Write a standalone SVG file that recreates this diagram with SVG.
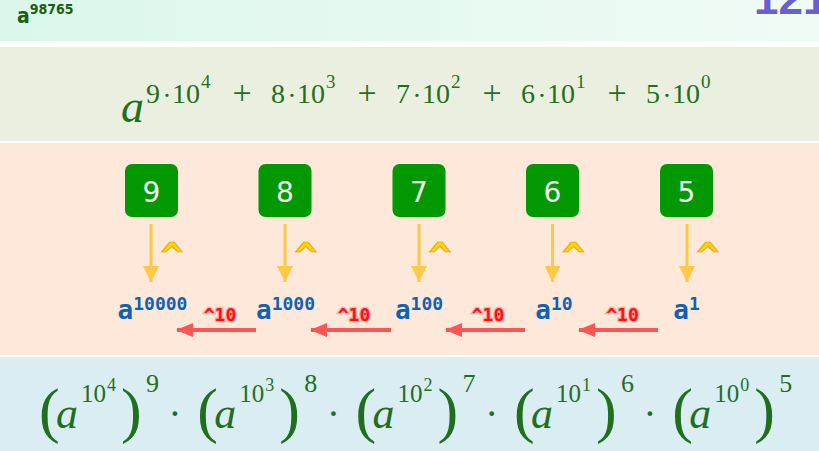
<svg xmlns="http://www.w3.org/2000/svg" width="819" height="451" viewBox="0 0 819 451">
<defs>
<linearGradient id="topg" x1="0" y1="0" x2="1" y2="0">
<stop offset="0" stop-color="#dbf7eb"/>
<stop offset="1" stop-color="#f0fbf6"/>
</linearGradient>
<marker id="ya" markerUnits="userSpaceOnUse" markerWidth="16" markerHeight="16" refX="16" refY="8" orient="auto">
<path d="M0,0 L16,8 L0,16 z" fill="#ffc845"/>
</marker>
<marker id="ra" markerUnits="userSpaceOnUse" markerWidth="17" markerHeight="14" refX="16" refY="7" orient="auto">
<path d="M0,0 L17,7 L0,14 z" fill="#fa5656"/>
</marker>
</defs>
<style>
.math{font-family:"Liberation Serif","DejaVu Serif",serif;fill:#1f6f1f}
.it{font-style:italic}
.box{fill:#029802}
.dig{font-family:"DejaVu Sans",sans-serif;font-size:28px;fill:#f2f2f2;text-anchor:middle}
.pw{font-family:"DejaVu Sans Mono",monospace;font-weight:bold;fill:#1161b3;text-anchor:middle}
.car{font-family:"DejaVu Sans Mono",monospace;font-weight:bold;font-size:38px;fill:#ffd200;stroke:#e09a00;stroke-width:0.7;text-anchor:middle}
.r10{font-family:"DejaVu Sans Mono",monospace;font-weight:bold;font-size:18px;fill:#ff1010;stroke:#ffaaaa;stroke-width:2.5;paint-order:stroke;text-anchor:middle}
.ya{stroke:#ffc845;stroke-width:3;fill:none}
.ra{stroke:#fa5656;stroke-width:4;fill:none}
</style>
<rect width="819" height="451" fill="#ffffff"/>
<g id="band-top">
<rect x="0" y="0" width="819" height="41" fill="url(#topg)"/>
<text x="17" y="23" font-family="'DejaVu Sans Condensed','DejaVu Sans',sans-serif" font-weight="bold" fill="#1b5e12"><tspan font-size="21">a</tspan><tspan font-size="14" dy="-9">98765</tspan></text>
<text x="754" y="14" font-family="'Liberation Sans',Arial,sans-serif" font-weight="bold" font-size="44" fill="#6b5fce">121</text>
</g>
<g id="band-sum">
<rect x="0" y="47" width="819" height="94" fill="#ebefdf"/>
<text class="math it" x="121" y="122" font-size="46">a</text>
<g class="math">
<text x="146" y="103" font-size="28">9</text><text x="167" y="105" font-size="28" text-anchor="middle">·</text><text x="172" y="103" font-size="28">10</text><text x="201" y="88" font-size="19">4</text>
<text x="242" y="104" font-size="34" text-anchor="middle">+</text>
<text x="271" y="103" font-size="28">8</text><text x="292" y="105" font-size="28" text-anchor="middle">·</text><text x="297" y="103" font-size="28">10</text><text x="326" y="88" font-size="19">3</text>
<text x="367" y="104" font-size="34" text-anchor="middle">+</text>
<text x="396" y="103" font-size="28">7</text><text x="417" y="105" font-size="28" text-anchor="middle">·</text><text x="422" y="103" font-size="28">10</text><text x="451" y="88" font-size="19">2</text>
<text x="492" y="104" font-size="34" text-anchor="middle">+</text>
<text x="521" y="103" font-size="28">6</text><text x="542" y="105" font-size="28" text-anchor="middle">·</text><text x="547" y="103" font-size="28">10</text><text x="576" y="88" font-size="19">1</text>
<text x="617" y="104" font-size="34" text-anchor="middle">+</text>
<text x="646" y="103" font-size="28">5</text><text x="667" y="105" font-size="28" text-anchor="middle">·</text><text x="672" y="103" font-size="28">10</text><text x="701" y="88" font-size="19">0</text>
</g>
</g>
<g id="band-steps">
<rect x="0" y="143" width="819" height="212" fill="#fde8da"/>
</g>
<g id="digit-9"><rect class="box" x="125" y="164" width="53" height="53" rx="7"/><text class="dig" x="151.5" y="202">9</text></g>
<g id="digit-8"><rect class="box" x="258.5" y="164" width="53" height="53" rx="7"/><text class="dig" x="285" y="202">8</text></g>
<g id="digit-7"><rect class="box" x="392.5" y="164" width="53" height="53" rx="7"/><text class="dig" x="419" y="202">7</text></g>
<g id="digit-6"><rect class="box" x="526" y="164" width="53" height="53" rx="7"/><text class="dig" x="552.5" y="202">6</text></g>
<g id="digit-5"><rect class="box" x="660" y="164" width="53" height="53" rx="7"/><text class="dig" x="686.5" y="202">5</text></g>
<g id="pow-10000"><text class="pw" x="152.5" y="319"><tspan font-size="26">a</tspan><tspan font-size="18" dy="-9">10000</tspan></text></g>
<g id="pow-1000"><text class="pw" x="285.5" y="319"><tspan font-size="26">a</tspan><tspan font-size="18" dy="-9">1000</tspan></text></g>
<g id="pow-100"><text class="pw" x="419" y="319"><tspan font-size="26">a</tspan><tspan font-size="18" dy="-9">100</tspan></text></g>
<g id="pow-10"><text class="pw" x="554" y="319"><tspan font-size="26">a</tspan><tspan font-size="18" dy="-9">10</tspan></text></g>
<g id="pow-1"><text class="pw" x="686.5" y="319"><tspan font-size="26">a</tspan><tspan font-size="18" dy="-9">1</tspan></text></g>
<g id="connectors">
<line class="ya" x1="151" y1="224" x2="151" y2="282" marker-end="url(#ya)"/>
<line class="ya" x1="285" y1="224" x2="285" y2="282" marker-end="url(#ya)"/>
<line class="ya" x1="419" y1="224" x2="419" y2="282" marker-end="url(#ya)"/>
<line class="ya" x1="552.5" y1="224" x2="552.5" y2="282" marker-end="url(#ya)"/>
<line class="ya" x1="687" y1="224" x2="687" y2="282" marker-end="url(#ya)"/>
<text class="car" x="172" y="269">^</text>
<text class="car" x="306" y="269">^</text>
<text class="car" x="440" y="269">^</text>
<text class="car" x="573.5" y="269">^</text>
<text class="car" x="708" y="269">^</text>
<line class="ra" x1="256" y1="330" x2="177" y2="330" marker-end="url(#ra)"/>
<line class="ra" x1="391" y1="330" x2="311" y2="330" marker-end="url(#ra)"/>
<line class="ra" x1="525" y1="330" x2="446" y2="330" marker-end="url(#ra)"/>
<line class="ra" x1="658" y1="330" x2="579" y2="330" marker-end="url(#ra)"/>
<text class="r10" x="220" y="321">^10</text>
<text class="r10" x="354" y="321">^10</text>
<text class="r10" x="488" y="321">^10</text>
<text class="r10" x="622.5" y="321">^10</text>
</g>
<g id="band-product">
<rect x="0" y="357" width="819" height="94" fill="#daedf3"/>
<g class="math">
<g><text x="39" y="431" font-size="62">(</text><text class="it" x="56" y="428" font-size="44">a</text><text x="81" y="402" font-size="25">10</text><text x="107" y="391" font-size="18">4</text><text x="121" y="431" font-size="62">)</text><text x="146" y="392" font-size="26">9</text><text x="175" y="427" font-size="40" text-anchor="middle">·</text></g>
<g transform="translate(158.3,0)"><text x="39" y="431" font-size="62">(</text><text class="it" x="56" y="428" font-size="44">a</text><text x="81" y="402" font-size="25">10</text><text x="107" y="391" font-size="18">3</text><text x="121" y="431" font-size="62">)</text><text x="146" y="392" font-size="26">8</text><text x="175" y="427" font-size="40" text-anchor="middle">·</text></g>
<g transform="translate(316.6,0)"><text x="39" y="431" font-size="62">(</text><text class="it" x="56" y="428" font-size="44">a</text><text x="81" y="402" font-size="25">10</text><text x="107" y="391" font-size="18">2</text><text x="121" y="431" font-size="62">)</text><text x="146" y="392" font-size="26">7</text><text x="175" y="427" font-size="40" text-anchor="middle">·</text></g>
<g transform="translate(474.9,0)"><text x="39" y="431" font-size="62">(</text><text class="it" x="56" y="428" font-size="44">a</text><text x="81" y="402" font-size="25">10</text><text x="107" y="391" font-size="18">1</text><text x="121" y="431" font-size="62">)</text><text x="146" y="392" font-size="26">6</text><text x="175" y="427" font-size="40" text-anchor="middle">·</text></g>
<g transform="translate(633.2,0)"><text x="39" y="431" font-size="62">(</text><text class="it" x="56" y="428" font-size="44">a</text><text x="81" y="402" font-size="25">10</text><text x="107" y="391" font-size="18">0</text><text x="121" y="431" font-size="62">)</text><text x="146" y="392" font-size="26">5</text></g>
</g>
</g>
</svg>
